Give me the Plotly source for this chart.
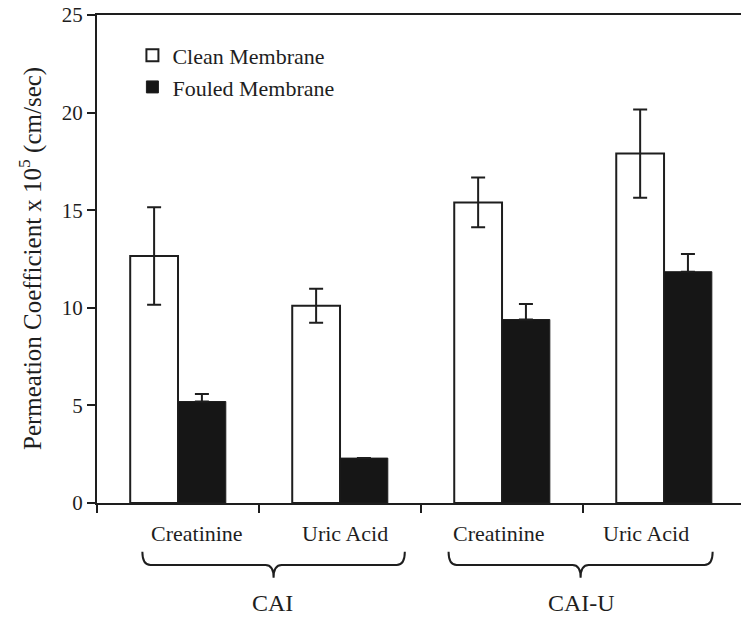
import plotly.graph_objects as go

# Permeation coefficients (x 10^5 cm/sec) for two membranes, two solutes each
categories = ["CAI Creatinine", "CAI Uric Acid", "CAI-U Creatinine", "CAI-U Uric Acid"]
analyte_labels = ["Creatinine", "Uric Acid", "Creatinine", "Uric Acid"]
groups = ["CAI", "CAI-U"]

clean = [12.65, 10.1, 15.4, 17.9]
clean_err = [2.5, 0.87, 1.27, 2.26]
fouled = [5.2, 2.3, 9.4, 11.85]
fouled_err = [0.38, None, 0.8, 0.9]

y_ticks = [0, 5, 10, 15, 20, 25]

INK = "#1e1e1e"
SERIF = "Liberation Serif, Times New Roman, serif"

fig = go.Figure()
fig.add_trace(go.Bar(
    x=categories, y=clean, name="Clean Membrane", legendgroup="clean",
    marker=dict(color="white", line=dict(color=INK, width=2)),
    error_y=dict(type="data", array=clean_err, color=INK, thickness=2, width=7),
))
fig.add_trace(go.Bar(
    x=categories, y=fouled, name="Fouled Membrane", legendgroup="fouled",
    marker=dict(color="#161616", line=dict(color=INK, width=1)),
    # only the upper whisker shows above the solid bar
    error_y=dict(type="data", symmetric=False, array=fouled_err,
                 arrayminus=[0 if e is not None else None for e in fouled_err],
                 color=INK, thickness=2, width=7),
))

# category label positions (x in category units) and brace extents per group
label_x = [0.12, 1.03, 1.98, 2.89]
brace_spans = [(-0.22, 1.40), (1.67, 3.30)]
group_x = [0.585, 2.49]

annotations = []
for lx, txt in zip(label_x, analyte_labels):
    annotations.append(dict(x=lx, y=-0.062, xref="x", yref="paper", text=txt,
                            showarrow=False, font=dict(family=SERIF, size=22, color=INK),
                            xanchor="center", yanchor="middle"))
for gx, txt in zip(group_x, groups):
    annotations.append(dict(x=gx, y=-0.205, xref="x", yref="paper", text=txt,
                            showarrow=False, font=dict(family=SERIF, size=24, color=INK),
                            xanchor="center", yanchor="middle"))
annotations.append(dict(
    x=-0.104, y=0.5, xref="paper", yref="paper",
    text="Permeation Coefficient x 10<sup>5</sup> (cm/sec)",
    textangle=-90, showarrow=False,
    font=dict(family=SERIF, size=25, color=INK),
    xanchor="center", yanchor="middle"))

# curly braces under each group (y in paper units below the axis)
shapes = []
y_tip, y_line, y_point = -0.100, -0.127, -0.153
for (a, b) in brace_spans:
    m = (a + b) / 2
    c = 0.05
    path = (f"M{a},{y_tip} Q{a},{y_line} {a + c},{y_line} "
            f"L{m - c},{y_line} Q{m},{y_line} {m},{y_point} "
            f"Q{m},{y_line} {m + c},{y_line} "
            f"L{b - c},{y_line} Q{b},{y_line} {b},{y_tip}")
    shapes.append(dict(type="path", path=path, xref="x", yref="paper",
                       line=dict(color=INK, width=2)))

fig.update_layout(
    width=741, height=617,
    margin=dict(l=97, r=0, t=15, b=114),
    plot_bgcolor="white", paper_bgcolor="white",
    barmode="group", bargap=0.41, bargroupgap=0,
    font=dict(family=SERIF, color=INK),
    legend=dict(x=0.055, y=0.96, xanchor="left", yanchor="top",
                font=dict(family=SERIF, size=22, color=INK),
                bgcolor="rgba(0,0,0,0)", itemwidth=30,
                traceorder="grouped", tracegroupgap=0),
    annotations=annotations,
    shapes=shapes,
    xaxis=dict(
        type="category", range=[-0.5, 3.475], tickson="boundaries",
        ticks="outside", ticklen=8, tickwidth=2, tickcolor=INK,
        showticklabels=False, showgrid=False, zeroline=False,
        showline=True, linecolor=INK, linewidth=2, mirror=True,
    ),
    yaxis=dict(
        range=[0, 25], tickvals=y_ticks, ticks="outside", ticklen=8,
        tickwidth=2, tickcolor=INK, showgrid=False, zeroline=False,
        showline=True, linecolor=INK, linewidth=2,
        tickfont=dict(family=SERIF, size=21, color=INK),
    ),
)

fig.write_html("out.html")
